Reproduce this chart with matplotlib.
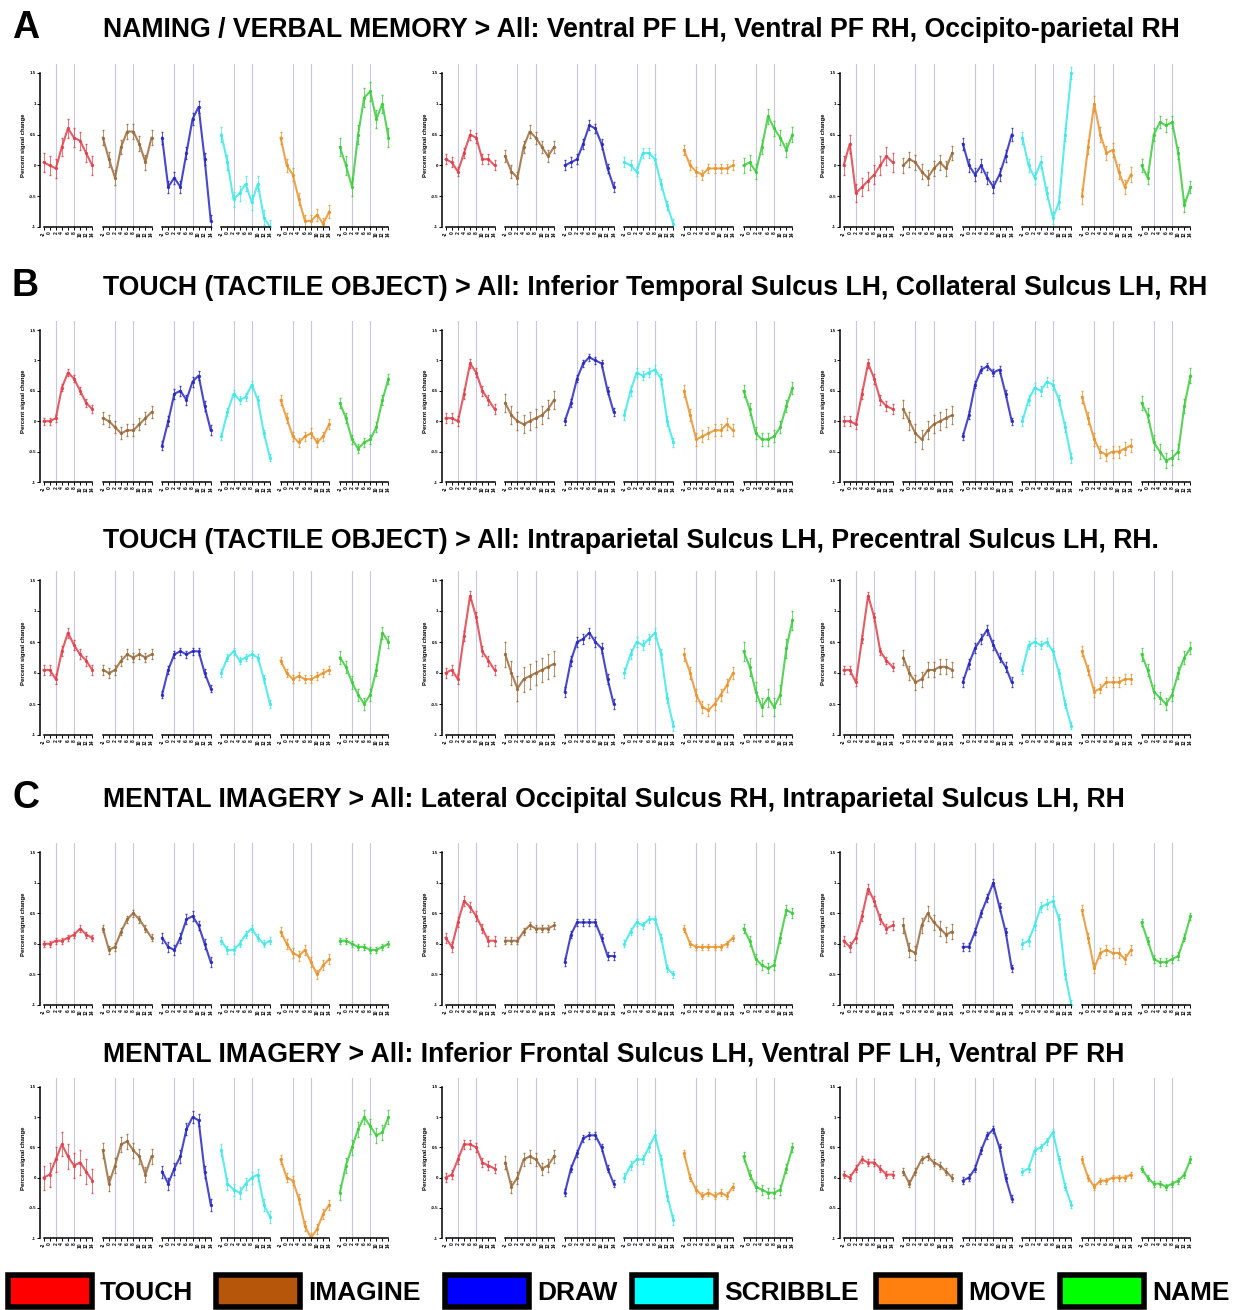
"""Event-related time courses, 5 ROI rows x 3 regions x 6 task conditions."""

import matplotlib
matplotlib.use("Agg")
import matplotlib.pyplot as plt
from matplotlib import font_manager
from matplotlib.patches import Rectangle

# --- data ---------------------------------------------------------------
CONDITIONS = ["TOUCH", "IMAGINE", "DRAW", "SCRIBBLE", "MOVE", "NAME"]
TIME = [-2, 0, 2, 4, 6, 8, 10, 12, 14]
STIM_LINES = [2, 8]
Y_TICKS = [-1, -0.5, 0, 0.5, 1, 1.5]

TITLES = [
    "NAMING / VERBAL MEMORY > All: Ventral PF LH, Ventral PF RH, Occipito-parietal RH",
    "TOUCH (TACTILE OBJECT) > All: Inferior Temporal Sulcus LH, Collateral Sulcus LH, RH",
    "TOUCH (TACTILE OBJECT) > All: Intraparietal Sulcus LH, Precentral Sulcus LH, RH.",
    "MENTAL IMAGERY > All: Lateral Occipital Sulcus RH, Intraparietal Sulcus LH, RH",
    "MENTAL IMAGERY > All: Inferior Frontal Sulcus LH, Ventral PF LH, Ventral PF RH",
]
LETTERS = ["A", "B", "", "C", ""]

# percent signal change, one row per condition (TOUCH..NAME), columns = TIME
A1 = [[0.05, 0.0, -0.05, 0.3, 0.6, 0.45, 0.4, 0.2, 0.0],
      [0.45, 0.1, -0.2, 0.3, 0.55, 0.55, 0.35, 0.05, 0.45],
      [0.45, -0.35, -0.2, -0.35, 0.2, 0.75, 0.95, 0.1, -0.9],
      [0.5, 0.05, -0.55, -0.45, -0.3, -0.6, -0.3, -0.85, -1.0],
      [0.45, 0.0, -0.15, -0.55, -0.9, -0.9, -0.8, -0.95, -0.75],
      [0.3, 0.0, -0.35, 0.5, 1.1, 1.2, 0.75, 1.0, 0.45]]
A2 = [[0.1, 0.05, -0.1, 0.2, 0.5, 0.45, 0.1, 0.1, 0.0],
      [0.15, -0.1, -0.2, 0.3, 0.55, 0.45, 0.3, 0.15, 0.3],
      [0.0, 0.05, 0.1, 0.35, 0.65, 0.6, 0.35, -0.05, -0.35],
      [0.05, 0.0, -0.1, 0.2, 0.2, 0.1, -0.3, -0.65, -0.95],
      [0.25, 0.0, -0.1, -0.15, -0.05, -0.05, -0.05, -0.05, 0.0],
      [0.0, 0.05, -0.1, 0.3, 0.8, 0.6, 0.45, 0.25, 0.5]]
A3 = [[0.0, 0.35, -0.45, -0.35, -0.25, -0.15, 0.0, 0.15, 0.05],
      [0.0, 0.1, 0.05, -0.1, -0.2, -0.05, 0.05, -0.05, 0.2],
      [0.35, 0.0, -0.15, 0.0, -0.2, -0.35, -0.15, 0.15, 0.5],
      [0.45, 0.0, -0.2, 0.05, -0.45, -0.85, -0.6, 0.5, 1.5],
      [-0.5, 0.3, 1.0, 0.5, 0.2, 0.25, -0.1, -0.35, -0.15],
      [0.0, -0.2, 0.5, 0.7, 0.65, 0.7, 0.2, -0.65, -0.35]]
B1 = [[0.0, 0.0, 0.05, 0.55, 0.8, 0.7, 0.5, 0.3, 0.2],
      [0.05, 0.0, -0.1, -0.2, -0.15, -0.15, -0.05, 0.05, 0.15],
      [-0.4, 0.0, 0.45, 0.5, 0.35, 0.65, 0.75, 0.25, -0.15],
      [-0.25, 0.15, 0.45, 0.35, 0.4, 0.6, 0.35, -0.2, -0.6],
      [0.35, 0.05, -0.25, -0.35, -0.25, -0.2, -0.35, -0.25, -0.05],
      [0.3, 0.05, -0.3, -0.45, -0.35, -0.3, -0.1, 0.35, 0.7]]
B2 = [[0.05, 0.05, 0.0, 0.45, 0.95, 0.8, 0.5, 0.35, 0.2],
      [0.3, 0.1, 0.0, -0.05, 0.0, 0.05, 0.1, 0.2, 0.35],
      [0.0, 0.3, 0.7, 0.95, 1.05, 1.0, 0.95, 0.5, 0.15],
      [0.1, 0.5, 0.8, 0.75, 0.8, 0.85, 0.7, 0.0, -0.35],
      [0.5, 0.1, -0.3, -0.25, -0.2, -0.15, -0.15, -0.05, -0.15],
      [0.5, 0.2, -0.2, -0.3, -0.3, -0.25, -0.1, 0.25, 0.55]]
B3 = [[0.0, 0.0, -0.05, 0.45, 0.95, 0.7, 0.35, 0.25, 0.2],
      [0.2, 0.0, -0.2, -0.3, -0.15, -0.05, 0.0, 0.05, 0.1],
      [-0.25, 0.1, 0.6, 0.85, 0.9, 0.8, 0.85, 0.45, 0.0],
      [0.0, 0.35, 0.55, 0.5, 0.65, 0.6, 0.35, -0.1, -0.6],
      [0.4, 0.05, -0.3, -0.5, -0.55, -0.5, -0.5, -0.45, -0.4],
      [0.3, 0.1, -0.35, -0.5, -0.65, -0.6, -0.5, 0.25, 0.75]]
B4 = [[0.05, 0.05, -0.1, 0.35, 0.65, 0.45, 0.3, 0.2, 0.05],
      [0.05, 0.0, 0.05, 0.2, 0.3, 0.25, 0.3, 0.25, 0.3],
      [-0.35, 0.05, 0.3, 0.35, 0.3, 0.35, 0.35, 0.0, -0.25],
      [0.0, 0.25, 0.35, 0.2, 0.25, 0.3, 0.25, -0.1, -0.5],
      [0.2, 0.0, -0.1, -0.05, -0.1, -0.1, -0.05, 0.0, 0.05],
      [0.25, 0.1, -0.15, -0.35, -0.5, -0.35, 0.05, 0.65, 0.5]]
B5 = [[0.0, 0.05, -0.1, 0.6, 1.25, 0.9, 0.35, 0.2, 0.05],
      [0.3, 0.0, -0.25, -0.1, -0.05, 0.0, 0.05, 0.1, 0.15],
      [-0.3, 0.2, 0.5, 0.55, 0.65, 0.5, 0.4, -0.1, -0.5],
      [0.0, 0.3, 0.5, 0.45, 0.55, 0.65, 0.3, -0.4, -0.85],
      [0.3, 0.0, -0.35, -0.55, -0.6, -0.5, -0.35, -0.2, 0.0],
      [0.35, 0.1, -0.3, -0.55, -0.4, -0.55, -0.35, 0.4, 0.85]]
B6 = [[0.05, 0.05, -0.15, 0.55, 1.25, 0.9, 0.35, 0.2, 0.1],
      [0.25, 0.0, -0.15, -0.1, 0.05, 0.05, 0.1, 0.1, 0.05],
      [-0.15, 0.15, 0.4, 0.55, 0.7, 0.45, 0.25, 0.1, -0.15],
      [0.05, 0.45, 0.5, 0.45, 0.5, 0.35, 0.0, -0.5, -0.85],
      [0.35, 0.05, -0.3, -0.25, -0.15, -0.15, -0.15, -0.1, -0.1],
      [0.3, 0.05, -0.3, -0.4, -0.5, -0.35, 0.0, 0.25, 0.4]]
C1 = [[0.0, 0.0, 0.05, 0.05, 0.1, 0.15, 0.25, 0.15, 0.1],
      [0.25, -0.1, -0.05, 0.2, 0.4, 0.5, 0.4, 0.25, 0.1],
      [0.1, -0.05, -0.1, 0.1, 0.4, 0.45, 0.3, 0.0, -0.3],
      [0.05, -0.1, -0.1, 0.0, 0.15, 0.25, 0.1, 0.0, 0.05],
      [0.2, 0.0, -0.15, -0.2, -0.1, -0.3, -0.5, -0.35, -0.25],
      [0.05, 0.05, 0.0, -0.05, -0.05, -0.1, -0.1, -0.05, 0.0]]
C2 = [[0.1, -0.05, 0.35, 0.7, 0.6, 0.45, 0.25, 0.05, 0.05],
      [0.05, 0.05, 0.05, 0.2, 0.3, 0.25, 0.25, 0.25, 0.3],
      [-0.3, 0.15, 0.35, 0.35, 0.35, 0.35, 0.1, -0.2, -0.2],
      [0.0, 0.2, 0.35, 0.3, 0.4, 0.4, 0.1, -0.4, -0.5],
      [0.25, 0.0, -0.05, -0.05, -0.05, -0.05, -0.05, 0.0, 0.1],
      [0.25, 0.05, -0.25, -0.35, -0.4, -0.35, 0.1, 0.55, 0.5]]
C3 = [[0.05, -0.05, 0.1, 0.45, 0.9, 0.7, 0.4, 0.25, 0.3],
      [0.3, -0.1, -0.15, 0.3, 0.5, 0.35, 0.25, 0.15, 0.2],
      [-0.05, -0.05, 0.2, 0.5, 0.75, 1.0, 0.6, 0.2, -0.4],
      [0.0, 0.05, 0.3, 0.6, 0.65, 0.7, 0.4, -0.5, -1.0],
      [0.55, 0.1, -0.4, -0.15, -0.1, -0.15, -0.15, -0.25, -0.1],
      [0.35, 0.05, -0.25, -0.3, -0.3, -0.25, -0.2, 0.1, 0.45]]
C4 = [[0.0, 0.05, 0.3, 0.55, 0.35, 0.2, 0.25, 0.1, -0.05],
      [0.45, -0.1, 0.2, 0.55, 0.6, 0.45, 0.35, 0.05, 0.35],
      [0.1, -0.1, 0.15, 0.35, 0.8, 1.0, 0.95, 0.1, -0.45],
      [0.45, -0.1, -0.2, -0.25, -0.1, 0.0, 0.05, -0.45, -0.65],
      [0.3, 0.0, -0.05, -0.35, -0.8, -1.0, -0.85, -0.6, -0.45],
      [-0.25, 0.2, 0.5, 0.8, 1.0, 0.85, 0.7, 0.75, 1.0]]
C5 = [[0.0, 0.05, 0.3, 0.55, 0.55, 0.5, 0.25, 0.2, 0.15],
      [0.25, -0.15, 0.0, 0.3, 0.35, 0.3, 0.15, 0.2, 0.35],
      [-0.25, 0.15, 0.4, 0.65, 0.7, 0.7, 0.5, 0.15, -0.1],
      [0.0, 0.2, 0.3, 0.3, 0.5, 0.7, 0.3, -0.3, -0.7],
      [0.4, 0.0, -0.2, -0.3, -0.25, -0.3, -0.25, -0.3, -0.15],
      [0.35, 0.05, -0.15, -0.2, -0.25, -0.25, -0.2, 0.15, 0.5]]
C6 = [[0.05, 0.0, 0.15, 0.3, 0.25, 0.25, 0.15, 0.05, 0.05],
      [0.1, -0.1, 0.1, 0.3, 0.35, 0.25, 0.2, 0.1, 0.0],
      [-0.05, 0.0, 0.15, 0.45, 0.7, 0.8, 0.5, 0.0, -0.35],
      [0.1, 0.15, 0.45, 0.5, 0.6, 0.75, 0.3, -0.15, -0.45],
      [0.3, 0.0, -0.15, -0.05, -0.05, 0.0, 0.0, 0.0, 0.05],
      [0.15, 0.0, -0.1, -0.1, -0.15, -0.1, -0.05, 0.05, 0.3]]

# standard error, one value per condition
A1_ERR = [0.15, 0.12, 0.1, 0.12, 0.1, 0.15]
A2_ERR = [0.08, 0.1, 0.08, 0.08, 0.08, 0.12]
A3_ERR = [0.15, 0.12, 0.1, 0.1, 0.12, 0.1]
B1_ERR = [0.06, 0.1, 0.08, 0.06, 0.08, 0.08]
B2_ERR = [0.08, 0.15, 0.06, 0.08, 0.1, 0.1]
B3_ERR = [0.08, 0.15, 0.06, 0.08, 0.1, 0.12]
B4_ERR = [0.08, 0.08, 0.06, 0.06, 0.06, 0.1]
B5_ERR = [0.08, 0.2, 0.08, 0.08, 0.1, 0.15]
B6_ERR = [0.06, 0.12, 0.08, 0.06, 0.08, 0.1]
C1_ERR = [0.05, 0.06, 0.08, 0.06, 0.08, 0.05]
C2_ERR = [0.08, 0.06, 0.06, 0.06, 0.05, 0.08]
C3_ERR = [0.08, 0.12, 0.06, 0.08, 0.08, 0.06]
C4_ERR = [0.2, 0.12, 0.1, 0.1, 0.08, 0.12]
C5_ERR = [0.08, 0.1, 0.06, 0.08, 0.06, 0.08]
C6_ERR = [0.06, 0.06, 0.06, 0.06, 0.05, 0.05]

PANELS = [[A1, A2, A3], [B1, B2, B3], [B4, B5, B6], [C1, C2, C3], [C4, C5, C6]]
ERRORS = [[A1_ERR, A2_ERR, A3_ERR], [B1_ERR, B2_ERR, B3_ERR], [B4_ERR, B5_ERR, B6_ERR],
          [C1_ERR, C2_ERR, C3_ERR], [C4_ERR, C5_ERR, C6_ERR]]
# ------------------------------------------------------------------------

LINE_COLORS = ["#e0404a", "#9a6a3a", "#2828c0", "#40e8e8", "#e8942e", "#3ccc3c"]
BOX_COLORS = ["#ff0000", "#b5560b", "#0000ff", "#00ffff", "#ff7f0f", "#00ff00"]
VLINE = "#c8c8dc"

W, H = 1253, 1310
COL_X = [(40, 390), (442, 794), (840, 1192)]          # pixel extent of each column
ROW_Y = [(73, 227), (330, 482), (580, 735), (852, 1005), (1087, 1238)]  # y px of 1.5 and -1
TITLE_Y = [30, 288, 541, 800, 1055]
GAP = 3.5

installed = {f.name for f in font_manager.fontManager.ttflist}
HEAD_FONT = "Liberation Sans Narrow" if "Liberation Sans Narrow" in installed else "Liberation Sans"
plt.rcParams["font.family"] = ["Liberation Sans", "DejaVu Sans"]

fig = plt.figure(figsize=(W / 100, H / 100), dpi=100)

seg_w = TIME[-1] - TIME[0]
offsets = [k * (seg_w + GAP) for k in range(len(CONDITIONS))]
ymin, ymax = Y_TICKS[0], Y_TICKS[-1]


def draw_panel(ax, data, err):
    ax.set_ylim(ymin, ymax + 0.15)
    ax.set_xlim(TIME[0] - 1.2, offsets[-1] + TIME[-1] + 0.5)
    xt, xl = [], []
    for k, off in enumerate(offsets):
        for s in STIM_LINES:
            ax.axvline(off + s, color=VLINE, lw=0.8, zorder=0)
        xs = [off + t for t in TIME]
        ax.errorbar(xs, data[k], yerr=err[k], color=LINE_COLORS[k], lw=1.5,
                    marker="o", ms=1.4, elinewidth=0.6, capsize=1.0,
                    ecolor=LINE_COLORS[k], alpha=0.85, zorder=3)
        ax.plot([xs[0], xs[-1]], [ymin, ymin], color="black", lw=1.1,
                clip_on=False, zorder=4)
        xt += xs
        xl += [str(t) for t in TIME]
    ax.set_xticks(xt)
    ax.set_xticklabels(xl, rotation=90, fontsize=3.5, fontweight="bold")
    ax.set_yticks(Y_TICKS)
    ax.set_yticklabels([f"{v:g}" for v in Y_TICKS], fontsize=3.2, fontweight="bold")
    ax.tick_params(length=2, width=0.7, pad=1)
    for side in ["top", "right", "bottom"]:
        ax.spines[side].set_visible(False)
    ax.spines["left"].set_bounds(ymin, ymax)
    ax.spines["left"].set_linewidth(1.1)
    ax.set_ylabel("Percent signal change", fontsize=4.3, fontweight="bold", labelpad=2)


for r, row in enumerate(PANELS):
    y15, ym1 = ROW_Y[r]
    ppu = (ym1 - y15) / (ymax - ymin)
    top = y15 - 0.15 * ppu
    for c, data in enumerate(row):
        x0, x1 = COL_X[c]
        ax = fig.add_axes([x0 / W, 1 - ym1 / H, (x1 - x0) / W, (ym1 - top) / H])
        draw_panel(ax, data, ERRORS[r][c])
    fig.text(103 / W, 1 - TITLE_Y[r] / H, TITLES[r], fontsize=19.2, fontweight="bold",
             family=[HEAD_FONT, "DejaVu Sans"], va="center", ha="left")
    if LETTERS[r]:
        fig.text(12 / W, 1 - (TITLE_Y[r] - 2) / H, LETTERS[r], fontsize=27,
                 fontweight="bold", va="center", ha="left")

# legend strip
lax = fig.add_axes([0, 0, 1, 42 / H])
lax.set_xlim(0, W)
lax.set_ylim(0, 42)
lax.axis("off")
BOX_X = [8, 216, 445, 632, 876, 1060]
for name, col, bx in zip(CONDITIONS, BOX_COLORS, BOX_X):
    lax.add_patch(Rectangle((bx, 3), 84, 32, facecolor=col, edgecolor="black", lw=4))
    lax.text(bx + 92, 17, name, fontsize=19, fontweight="bold", va="center", ha="left",
             family=[HEAD_FONT, "DejaVu Sans"])

fig.savefig("out.png", dpi=100)
